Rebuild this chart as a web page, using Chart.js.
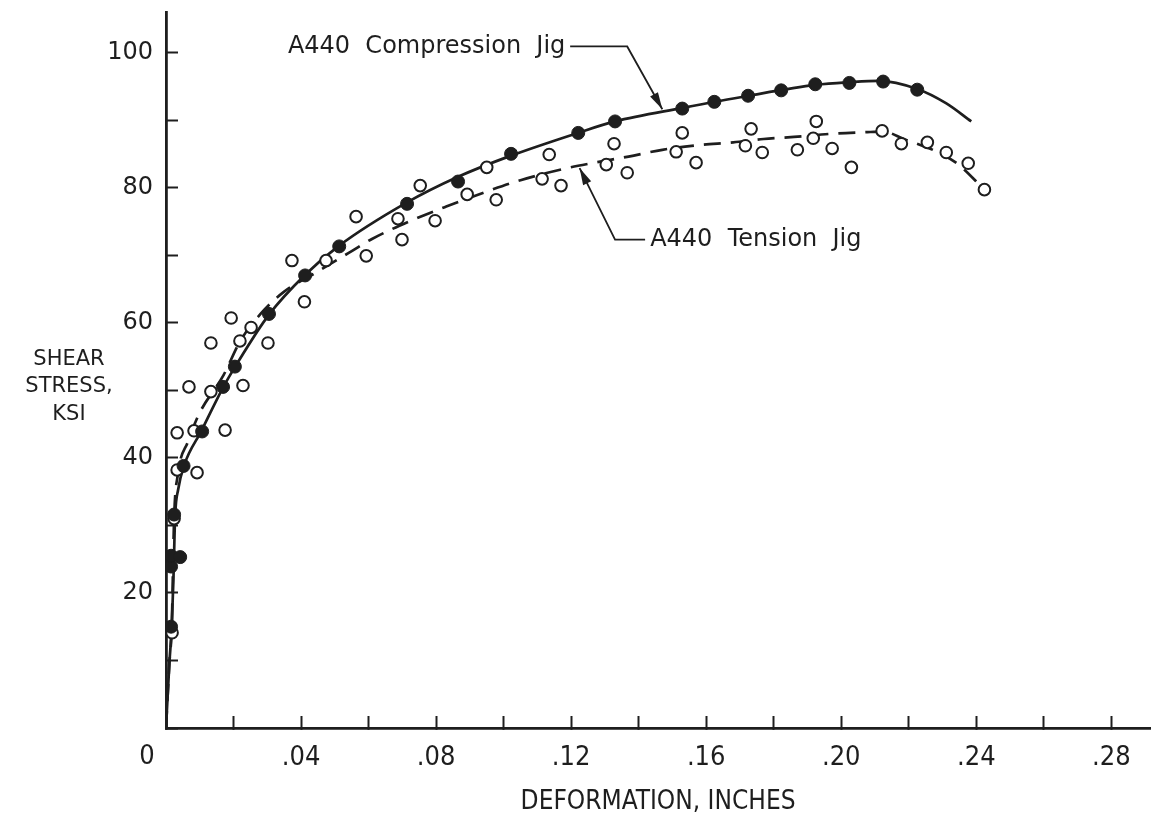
<!DOCTYPE html>
<html>
<head>
<meta charset="utf-8">
<script src="https://cdn.jsdelivr.net/npm/chart.js@4.4.0/dist/chart.umd.min.js"></script>
<style>
    html, body { margin: 0; padding: 0; background: #fff; }
    #wrap { width: 1158px; height: 819px; }
</style>
</head>
<body>
<div id="wrap"><canvas id="shearChart" width="1158" height="819"></canvas></div>
<script>
// A440 compression jig, test points (filled dots)
const compX = [0.0015, 0.0015, 0.0015, 0.0042, 0.0024, 0.0052, 0.0107, 0.0169, 0.0204, 0.0305,
    0.0412, 0.0513, 0.0714, 0.0865, 0.1022, 0.1221, 0.1330, 0.1529, 0.1624, 0.1724,
    0.1822, 0.1923, 0.2024, 0.2124, 0.2225];
const compY = [15.0, 23.9, 25.5, 25.3, 31.6, 38.8, 43.9, 50.5, 53.5, 61.3,
    67.0, 71.3, 77.6, 80.9, 85.0, 88.1, 89.8, 91.7, 92.7, 93.6,
    94.4, 95.3, 95.5, 95.7, 94.5];

// A440 tension jig, test points (open circles)
const tensX = [0.0018, 0.0024, 0.0033, 0.0033, 0.0092, 0.0083, 0.0068, 0.0133, 0.0133, 0.0175,
    0.0193, 0.0219, 0.0228, 0.0252, 0.0302, 0.0373, 0.0410, 0.0474, 0.0563, 0.0593,
    0.0687, 0.0699, 0.0753, 0.0797, 0.0892, 0.0950, 0.0978, 0.1114, 0.1135, 0.1170,
    0.1304, 0.1327, 0.1366, 0.1511, 0.1529, 0.1570, 0.1716, 0.1733, 0.1766, 0.1870,
    0.1917, 0.1926, 0.1973, 0.2030, 0.2121, 0.2178, 0.2255, 0.2311, 0.2376, 0.2424];
const tensY = [14.1, 31.0, 38.2, 43.7, 37.8, 44.0, 50.5, 49.8, 57.0, 44.1,
    60.7, 57.3, 50.7, 59.3, 57.0, 69.2, 63.1, 69.2, 75.7, 69.9,
    75.4, 72.3, 80.3, 75.1, 79.0, 83.0, 78.2, 81.3, 84.9, 80.3,
    83.4, 86.5, 82.2, 85.3, 88.1, 83.7, 86.2, 88.7, 85.2, 85.6,
    87.3, 89.8, 85.8, 83.0, 88.4, 86.5, 86.7, 85.2, 83.6, 79.7];

// faired curves
const compCurveX = [0, 0.0010, 0.0017, 0.0022, 0.0027, 0.0036, 0.0053, 0.0105, 0.0170, 0.0205,
    0.0305, 0.0410, 0.0510, 0.0710, 0.0865, 0.1020, 0.1220, 0.1330, 0.1530, 0.1725,
    0.1925, 0.2025, 0.2110, 0.2225, 0.2310, 0.2385];
const compCurveY = [0, 9.6, 15.0, 22.0, 31.3, 35.3, 38.8, 44.0, 50.5, 53.5,
    61.2, 67.0, 71.3, 77.7, 81.6, 84.7, 88.1, 89.8, 91.8, 93.6,
    95.2, 95.6, 95.8, 94.6, 92.5, 89.8];

const tensCurveX = [0, 0.0010, 0.0017, 0.0024, 0.0035, 0.0065, 0.0098, 0.0170, 0.0220, 0.0280,
    0.0350, 0.0440, 0.0540, 0.0610, 0.0730, 0.0830, 0.0960, 0.1050, 0.1180, 0.1270,
    0.1370, 0.1470, 0.1580, 0.1680, 0.1770, 0.1860, 0.1980, 0.2070, 0.2125, 0.2185,
    0.2275, 0.2345, 0.2424];
const tensCurveY = [0, 9.6, 15.0, 31.0, 37.5, 42.4, 46.5, 52.2, 57.3, 61.3,
    64.6, 67.3, 70.3, 72.4, 75.2, 77.2, 79.6, 81.1, 82.8, 83.7,
    84.6, 85.6, 86.3, 86.7, 87.2, 87.5, 88.0, 88.2, 88.3, 87.2,
    85.5, 83.5, 79.7];

// tick labels
const xLabelTicks = [4, 8, 12, 16, 20, 24, 28];   // hundredths of an inch
const xLabelText = ['.04', '.08', '.12', '.16', '.20', '.24', '.28'];
const yLabelTicks = [20, 40, 60, 80, 100];

const ink = '#1e1e1e';
const toPts = (xs, ys) => xs.map((x, i) => ({ x: x, y: ys[i] }));

function drawArrow(ctx, pts) {
    ctx.beginPath();
    ctx.moveTo(pts[0][0], pts[0][1]);
    for (let i = 1; i < pts.length; i++) ctx.lineTo(pts[i][0], pts[i][1]);
    ctx.stroke();
    const [ax, ay] = pts[pts.length - 2];
    const [bx, by] = pts[pts.length - 1];
    const ang = Math.atan2(by - ay, bx - ax);
    const len = 17, half = 4.5;
    const c = Math.cos(ang), s = Math.sin(ang);
    ctx.beginPath();
    ctx.moveTo(bx, by);
    ctx.lineTo(bx - len * c + half * s, by - len * s - half * c);
    ctx.lineTo(bx - len * c - half * s, by - len * s + half * c);
    ctx.closePath();
    ctx.fill();
}

// labels, leaders and the horizontal y title
const annotate = {
    id: 'annotate',
    afterDraw(chart) {
        const { ctx } = chart;
        const x = chart.scales.x, y = chart.scales.y;
        const px = v => x.getPixelForValue(v);
        const py = v => y.getPixelForValue(v);
        ctx.save();
        ctx.fillStyle = ink;
        ctx.strokeStyle = ink;

        // y axis title
        ctx.font = '21px "DejaVu Sans"';
        ctx.textAlign = 'center';
        ctx.textBaseline = 'middle';
        const cx = chart.chartArea.left - 97;
        ctx.fillText('SHEAR', cx, py(54.6));
        ctx.fillText('STRESS,', cx, py(50.5));
        ctx.fillText('KSI', cx, py(46.4));

        // origin label
        ctx.font = '27px "Liberation Sans Narrow", "DejaVu Sans Condensed", sans-serif';
        ctx.fillText('0', px(0) - 19, x.top + 29);

        // curve labels
        ctx.font = '24px "DejaVu Sans"';
        ctx.textAlign = 'left';
        ctx.fillText('A440  Compression  Jig', px(0.0361), py(100.9));
        ctx.fillText('A440  Tension  Jig', px(0.1434), py(72.3));

        ctx.lineWidth = 1.8;
        drawArrow(ctx, [[px(0.1197), py(100.9)], [px(0.1366), py(100.9)], [px(0.147), py(91.6)]]);
        drawArrow(ctx, [[px(0.1419), py(72.3)], [px(0.1330), py(72.3)], [px(0.1225), py(82.9)]]);
        ctx.restore();
    }
};

const ctx = document.getElementById('shearChart').getContext('2d');
const shearChart = new Chart(ctx, {
    type: 'scatter',
    data: {
        datasets: [{
            label: 'A440 Compression Jig (test)',
            data: toPts(compX, compY),
            pointRadius: 6.5,
            pointBackgroundColor: ink,
            pointBorderColor: ink,
            pointBorderWidth: 1,
            order: 0
        }, {
            label: 'A440 Tension Jig (test)',
            data: toPts(tensX, tensY),
            pointRadius: 5.8,
            pointBackgroundColor: '#fff',
            pointBorderColor: ink,
            pointBorderWidth: 2,
            order: 1
        }, {
            label: 'A440 Compression Jig',
            data: toPts(compCurveX, compCurveY),
            showLine: true,
            borderColor: ink,
            borderWidth: 2.7,
            pointRadius: 0,
            cubicInterpolationMode: 'monotone',
            order: 2
        }, {
            label: 'A440 Tension Jig',
            data: toPts(tensCurveX, tensCurveY),
            showLine: true,
            borderColor: ink,
            borderWidth: 2.7,
            borderDash: [17, 10],
            pointRadius: 0,
            cubicInterpolationMode: 'monotone',
            order: 3
        }]
    },
    options: {
        responsive: false,
        animation: false,
        devicePixelRatio: 1,
        events: [],
        layout: { padding: { top: 12, right: 0, left: 0, bottom: 0 } },
        plugins: {
            legend: { display: false },
            tooltip: { enabled: false }
        },
        scales: {
            x: {
                type: 'linear',
                min: 0,
                max: 0.2915,
                afterFit: s => { s.height = 91; s.paddingLeft = 0; s.paddingRight = 0; },
                border: { display: true, color: ink, width: 2.8 },
                grid: { drawOnChartArea: false, drawTicks: true, tickLength: -12, tickWidth: 2, tickColor: ink },
                ticks: {
                    stepSize: 0.02,
                    includeBounds: false,
                    autoSkip: false,
                    maxRotation: 0,
                    padding: 26,
                    color: ink,
                    font: { family: '"Liberation Sans Narrow", "DejaVu Sans Condensed", sans-serif', size: 27 },
                    callback: v => {
                        const i = xLabelTicks.indexOf(Math.round(v * 100));
                        return i < 0 ? '' : xLabelText[i];
                    }
                },
                title: {
                    display: true,
                    text: 'DEFORMATION, INCHES',
                    color: ink,
                    font: { family: '"Liberation Sans Narrow", "DejaVu Sans Condensed", sans-serif', size: 26 },
                    padding: { top: 4, bottom: 1 }
                }
            },
            y: {
                min: 0,
                max: 106,
                afterFit: s => { s.width = 166; s.paddingTop = 0; s.paddingBottom = 0; },
                border: { display: true, color: ink, width: 2.8 },
                grid: { drawOnChartArea: false, drawTicks: true, tickLength: -12, tickWidth: 2, tickColor: ink },
                ticks: {
                    stepSize: 10,
                    includeBounds: false,
                    autoSkip: false,
                    padding: 25,
                    color: ink,
                    font: { family: '"DejaVu Sans"', size: 24 },
                    callback: v => (yLabelTicks.includes(Math.round(v)) ? String(Math.round(v)) : '')
                }
            }
        }
    },
    plugins: [annotate]
});
</script>
</body>
</html>
